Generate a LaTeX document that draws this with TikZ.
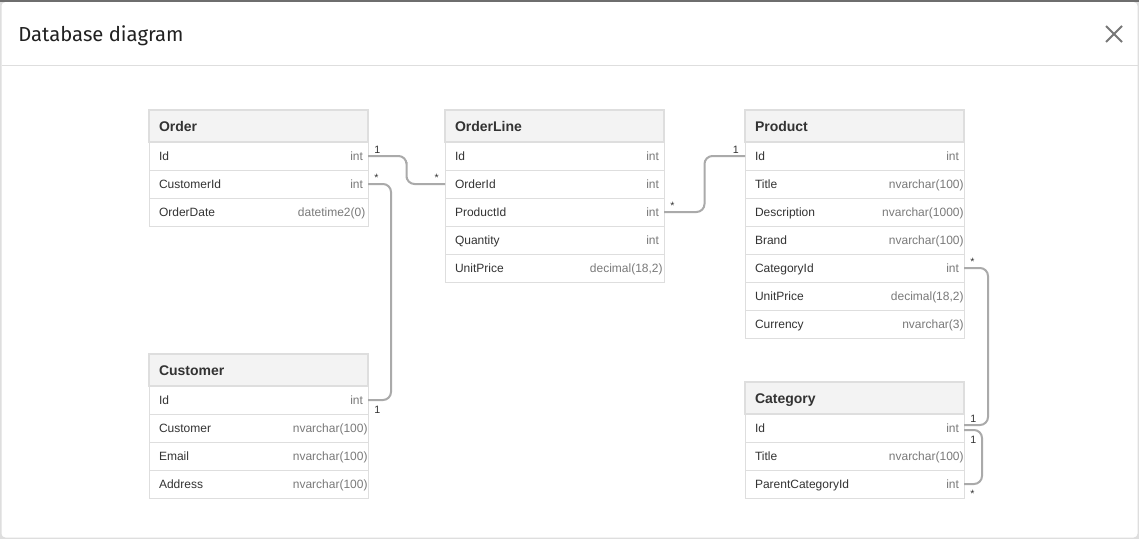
\documentclass[tikz,border=0pt]{standalone}
\usepackage{fontspec}
\setmainfont{Liberation Sans}
\newfontfamily\titlefont{Fira Sans}
\usepackage{tikz}
\usetikzlibrary{positioning,calc}

\definecolor{rowline}{HTML}{DEDEDE}
\definecolor{headfill}{HTML}{F3F3F3}
\definecolor{nametext}{HTML}{333333}
\definecolor{typegray}{HTML}{7A7A7A}
\definecolor{relgray}{HTML}{AAAAAA}
\definecolor{closegray}{HTML}{777777}
\definecolor{frametop}{HTML}{6E6E6E}

\newcommand{\dbtype}[2][3.75pt]{\hfill{\color{typegray}#2}\hspace*{#1}}

\tikzset{
	tblhead/.style={draw=rowline, fill=headfill, line width=0.9pt, outer sep=0pt,
		minimum width=164.25pt, text width=164.25pt, inner xsep=0pt, minimum height=24pt,
		text height=10.6pt, text depth=2pt, text=nametext,
		font=\fontsize{10.5}{12}\selectfont\bfseries},
	tblrow/.style={draw=rowline, fill=white, line width=0.75pt, outer sep=0pt,
		minimum width=164.25pt, text width=164.25pt, inner xsep=0pt, minimum height=21pt,
		text height=8pt, text depth=2pt, text=nametext,
		font=\fontsize{9}{11}\selectfont},
	rel/.style={draw=relgray, line width=1.5pt, rounded corners=6pt},
	mult/.style={font=\fontsize{8}{9}\selectfont, text=nametext, inner xsep=4.5pt, inner ysep=1.5pt},
	multlow/.style={mult, inner ysep=4.5pt},
}

\begin{document}
\begin{tikzpicture}[x=0.75pt, y=-0.75pt]
	\useasboundingbox (0,0) rectangle (1139,539);
	% dialog frame
	\fill[rowline] (0,0) rectangle (1139,539);
	\fill[frametop] (0,0) rectangle (1139,2);
	\fill[white, rounded corners=3pt] (1.5,2) rectangle (1137.5,537.5);
	\draw[rowline, line width=0.75pt] (1.5,65.5) -- (1137.5,65.5);
	\node[anchor=base west, inner sep=0pt, text=black!87, font=\titlefont\fontsize{15.2}{18}\selectfont] (title) at (18,41) {Database diagram};
	\draw[closegray, line width=1.5pt] (1106,26) -- (1122,42) (1106,42) -- (1122,26);
	
	% Order
	\node[tblhead, anchor=north west] (order) at (149,110) {\hspace{7.5pt}Order};
	\node[tblrow, below=0pt of order] (order-id) {\hspace{7.5pt}Id\dbtype{int}};
	\node[tblrow, below=0pt of order-id] (order-custid) {\hspace{7.5pt}CustomerId\dbtype{int}};
	\node[tblrow, below=0pt of order-custid] (order-date) {\hspace{7.5pt}OrderDate\dbtype[2pt]{datetime2(0)}};
	
	% OrderLine
	\node[tblhead, right=57.75pt of order] (ol) {\hspace{7.5pt}OrderLine};
	\node[tblrow, below=0pt of ol] (ol-id) {\hspace{7.5pt}Id\dbtype{int}};
	\node[tblrow, below=0pt of ol-id] (ol-orderid) {\hspace{7.5pt}OrderId\dbtype{int}};
	\node[tblrow, below=0pt of ol-orderid] (ol-productid) {\hspace{7.5pt}ProductId\dbtype{int}};
	\node[tblrow, below=0pt of ol-productid] (ol-qty) {\hspace{7.5pt}Quantity\dbtype{int}};
	\node[tblrow, below=0pt of ol-qty] (ol-price) {\hspace{7.5pt}UnitPrice\dbtype[1pt]{decimal(18,2)}};
	
	% Product
	\node[tblhead, right=60.75pt of ol] (prod) {\hspace{7.5pt}Product};
	\node[tblrow, below=0pt of prod] (prod-id) {\hspace{7.5pt}Id\dbtype{int}};
	\node[tblrow, below=0pt of prod-id] (prod-title) {\hspace{7.5pt}Title\dbtype[0.3pt]{nvarchar(100)}};
	\node[tblrow, below=0pt of prod-title] (prod-desc) {\hspace{7.5pt}Description\dbtype[0.3pt]{nvarchar(1000)}};
	\node[tblrow, below=0pt of prod-desc] (prod-brand) {\hspace{7.5pt}Brand\dbtype[0.3pt]{nvarchar(100)}};
	\node[tblrow, below=0pt of prod-brand] (prod-catid) {\hspace{7.5pt}CategoryId\dbtype{int}};
	\node[tblrow, below=0pt of prod-catid] (prod-price) {\hspace{7.5pt}UnitPrice\dbtype[0.3pt]{decimal(18,2)}};
	\node[tblrow, below=0pt of prod-price] (prod-cur) {\hspace{7.5pt}Currency\dbtype[0.3pt]{nvarchar(3)}};
	
	% Customer
	\node[tblhead, below=96pt of order-date] (cust) {\hspace{7.5pt}Customer};
	\node[tblrow, below=0pt of cust] (cust-id) {\hspace{7.5pt}Id\dbtype{int}};
	\node[tblrow, below=0pt of cust-id] (cust-name) {\hspace{7.5pt}Customer\dbtype[0.3pt]{nvarchar(100)}};
	\node[tblrow, below=0pt of cust-name] (cust-email) {\hspace{7.5pt}Email\dbtype[0.3pt]{nvarchar(100)}};
	\node[tblrow, below=0pt of cust-email] (cust-addr) {\hspace{7.5pt}Address\dbtype[0.3pt]{nvarchar(100)}};
	
	% Category
	\node[tblhead, below=33pt of prod-cur] (cat) {\hspace{7.5pt}Category};
	\node[tblrow, below=0pt of cat] (cat-id) {\hspace{7.5pt}Id\dbtype{int}};
	\node[tblrow, below=0pt of cat-id] (cat-title) {\hspace{7.5pt}Title\dbtype[0.3pt]{nvarchar(100)}};
	\node[tblrow, below=0pt of cat-title] (cat-parent) {\hspace{7.5pt}ParentCategoryId\dbtype{int}};
	
	% relations
	\draw[rel] (order-id.east) -| ($(order-id.east)!.5!(ol-orderid.west)$) |- (ol-orderid.west);
	\draw[rel] (order-custid.east) -- ++(23,0) |- (cust-id.east);
	\draw[rel] (ol-productid.east) -| ($(ol-productid.east)!.5!(prod-id.west)$) |- (prod-id.west);
	\draw[rel] (prod-catid.east) -- ++(24,0) |- ([yshift=2.25pt]cat-id.east);
	\draw[rel] ([yshift=-1.5pt]cat-id.east) -- ++(18,0) |- (cat-parent.east);
	
	% multiplicities
	\node[mult, anchor=south west] (m-order-id) at (order-id.east) {1};
	\node[mult, anchor=south east] (m-ol-orderid) at (ol-orderid.west) {*};
	\node[mult, anchor=south west] (m-order-custid) at (order-custid.east) {*};
	\node[multlow, anchor=north west] (m-cust-id) at (cust-id.east) {1};
	\node[mult, anchor=south west] (m-ol-productid) at (ol-productid.east) {*};
	\node[mult, anchor=south east] (m-prod-id) at (prod-id.west) {1};
	\node[mult, anchor=south west] (m-prod-catid) at (prod-catid.east) {*};
	\node[mult, anchor=south west] (m-cat-id) at ([yshift=2.25pt]cat-id.east) {1};
	\node[multlow, anchor=north west] (m-cat-self) at ([yshift=-1.5pt]cat-id.east) {1};
	\node[multlow, anchor=north west] (m-cat-parent) at (cat-parent.east) {*};
\end{tikzpicture}
\end{document}
